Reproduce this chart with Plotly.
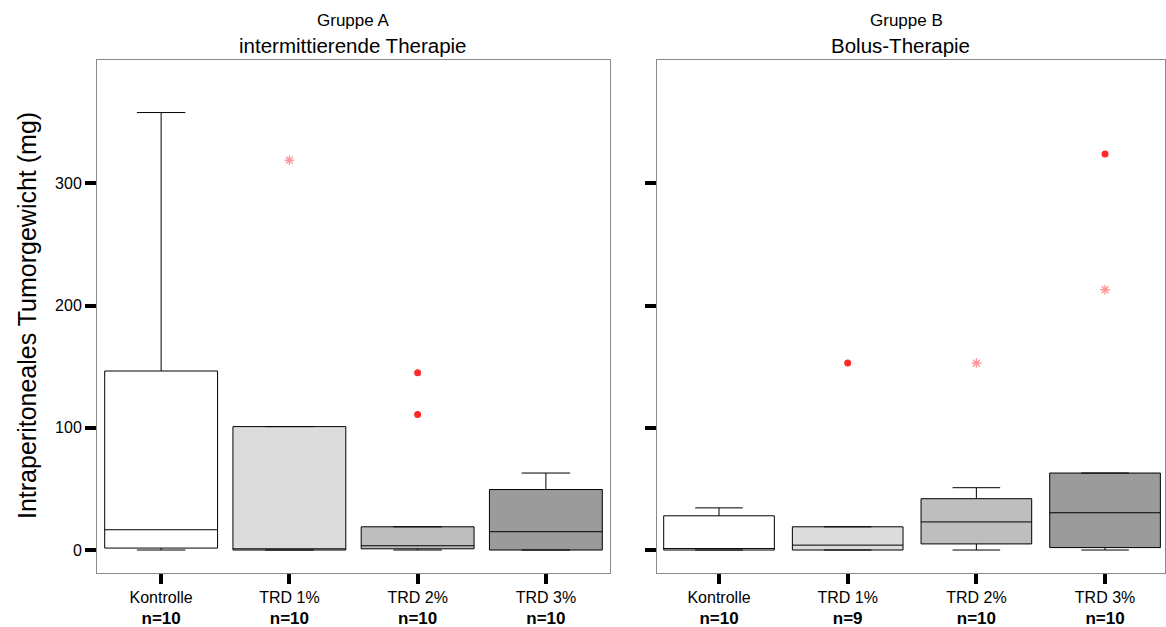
import plotly.graph_objects as go

# ---- data -------------------------------------------------------------
categories = ["Kontrolle", "TRD 1%", "TRD 2%", "TRD 3%"]
fills = ["#ffffff", "#dcdcdc", "#bebebe", "#9b9b9b"]

# Gruppe A – intermittierende Therapie
n_a = [10, 10, 10, 10]
lower_a = [0, 0, 0, 0]
q1_a = [1.6, 0, 1, 0]
median_a = [16.6, 1, 3.5, 15]
q3_a = [146.5, 101, 19, 49.5]
upper_a = [358, 101, 19, 63]
outlier_cat_a = [2, 2]
outlier_val_a = [145, 111]
extreme_cat_a = [1]
extreme_val_a = [319]

# Gruppe B – Bolus-Therapie
n_b = [10, 9, 10, 10]
lower_b = [0, 0, 0, 0]
q1_b = [0, 0, 5, 2]
median_b = [1.2, 4, 23, 30.5]
q3_b = [28, 19, 42, 63]
upper_b = [34.5, 19, 51, 63]
outlier_cat_b = [1, 3]
outlier_val_b = [153, 324]
extreme_cat_b = [2, 3]
extreme_val_b = [153, 213]

FONT = "Liberation Sans, Arial, sans-serif"
W, H = 1166, 627
EXTREME_COLOR = "rgba(255,80,80,0.6)"

fig = go.Figure()


def add_group(xa, ya, q1, med, q3, lo, hi, n, width, oc, ov, ec, ev):
    for i, cat in enumerate(categories):
        fig.add_trace(go.Box(
            x=[i], q1=[q1[i]], median=[med[i]], q3=[q3[i]],
            lowerfence=[lo[i]], upperfence=[hi[i]],
            width=width, whiskerwidth=0.43,
            fillcolor=fills[i],
            line=dict(color="black", width=1),
            boxpoints=False, showlegend=False, hoverinfo="skip",
            xaxis=xa, yaxis=ya,
        ))
    # outliers
    fig.add_trace(go.Scatter(
        x=oc, y=ov, mode="markers", xaxis=xa, yaxis=ya,
        marker=dict(symbol="circle", size=7, color="#ff2b2b"),
        showlegend=False, hoverinfo="skip",
    ))
    # extreme values
    fig.add_trace(go.Scatter(
        x=ec, y=ev, mode="markers", xaxis=xa, yaxis=ya,
        marker=dict(symbol="asterisk-open", size=8, color=EXTREME_COLOR,
                    line=dict(color=EXTREME_COLOR, width=1.4)),
        showlegend=False, hoverinfo="skip",
    ))


add_group("x", "y", q1_a, median_a, q3_a, lower_a, upper_a, n_a, 0.88,
          outlier_cat_a, outlier_val_a, extreme_cat_a, extreme_val_a)
add_group("x2", "y2", q1_b, median_b, q3_b, lower_b, upper_b, n_b, 0.86,
          outlier_cat_b, outlier_val_b, extreme_cat_b, extreme_val_b)


def ticktext(ns):
    return [f"{c}<br><span style='font-size:17px'><b>n={k}</b></span>"
            for c, k in zip(categories, ns)]


xcommon = dict(
    tickmode="array", tickvals=list(range(len(categories))),
    ticks="outside", ticklen=10, tickwidth=4, tickcolor="black",
    showline=True, linecolor="#8a8a8a", linewidth=1, mirror=True,
    showgrid=False, zeroline=False, automargin=False,
    tickfont=dict(family=FONT, size=16, color="black"),
    fixedrange=True,
)
ycommon = dict(
    range=[-18.8, 401], tickmode="array", tickvals=[0, 100, 200, 300],
    ticks="outside", ticklen=11, tickwidth=4, tickcolor="black",
    showline=True, linecolor="#8a8a8a", linewidth=1, mirror=True,
    showgrid=False, zeroline=False, automargin=False,
    tickfont=dict(family=FONT, size=16, color="black"),
    domain=[1 - 573 / H, 1 - 60 / H],
)

fig.update_layout(
    width=W, height=H,
    margin=dict(l=0, r=0, t=0, b=0, autoexpand=False),
    paper_bgcolor="white", plot_bgcolor="white",
    xaxis=dict(xcommon, domain=[97 / W, 610 / W], range=[-0.5, 3.5],
               ticktext=ticktext(n_a)),
    yaxis=dict(ycommon, anchor="x"),
    xaxis2=dict(xcommon, domain=[657 / W, 1165 / W], range=[-0.482, 3.466],
                ticktext=ticktext(n_b), anchor="y2"),
    yaxis2=dict(ycommon, anchor="x2", showticklabels=False),
)

annotations = [
    dict(text="Gruppe A", x=353 / W, y=1 - 20 / H, font=dict(size=17)),
    dict(text="intermittierende Therapie", x=353 / W, y=1 - 46 / H,
         font=dict(size=20.5)),
    dict(text="Gruppe B", x=906 / W, y=1 - 20 / H, font=dict(size=17)),
    dict(text="Bolus-Therapie", x=900 / W, y=1 - 46 / H, font=dict(size=20.5)),
    dict(text="Intraperitoneales Tumorgewicht (mg)", x=27 / W, y=1 - 316 / H,
         textangle=-90, font=dict(size=25)),
]
for a in annotations:
    a.update(xref="paper", yref="paper", showarrow=False,
             xanchor="center", yanchor="middle")
    a["font"].update(family=FONT, color="black")
fig.update_layout(annotations=annotations)

fig.write_html("out.html")
